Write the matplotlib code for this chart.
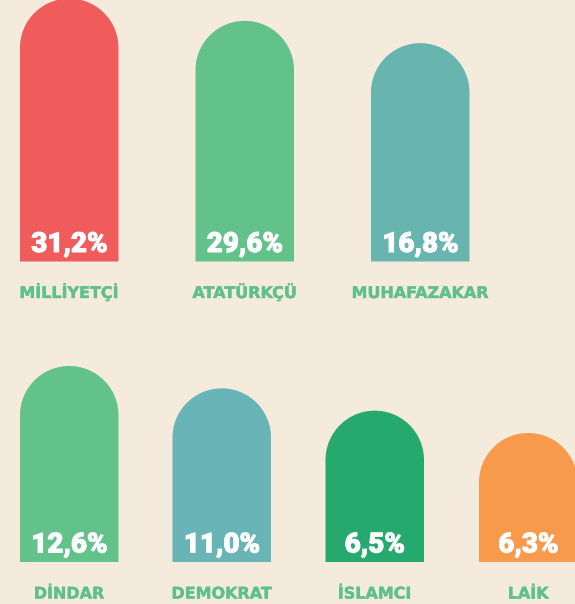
import matplotlib
matplotlib.use("Agg")
import numpy as np
import matplotlib.pyplot as plt
from matplotlib.patches import PathPatch
from matplotlib.path import Path
import matplotlib.patheffects as pe

## data
categories = ['MİLLİYETÇİ', 'ATATÜRKÇÜ', 'MUHAFAZAKAR', 'DİNDAR', 'DEMOKRAT', 'İSLAMCI', 'LAİK']
values = [31.2, 29.6, 16.8, 12.6, 11.0, 6.5, 6.3]
bar_colors = ['#F05B5C', '#62C28A', '#67B5AE', '#62C28A', '#68B4B7', '#26A96F', '#F79A4C']

bg = '#F5EBDD'
label_color = '#5FC08A'

## layout (pixels)
W, H = 575, 604
bar_w = 98.5
rows = [
    {'lefts': [20, 195.5, 371], 'bottom': 261.5},
    {'lefts': [20, 172.5, 325.5, 479], 'bottom': 562},
]
# bar height follows the rank of the value (equal steps)
h_max, h_step = 263, 22.33


def arch(left, bottom, w, h):
    r = w / 2
    cx = left + r
    cy = bottom - h + r
    t = np.linspace(np.pi, 2 * np.pi, 60)
    xs = [left] + list(cx + r * np.cos(t)) + [left + w, left]
    ys = [bottom] + list(cy + r * np.sin(t)) + [bottom, bottom]
    return Path(np.column_stack([xs, ys]), closed=True)


fig = plt.figure(figsize=(W / 100, H / 100), dpi=100, facecolor=bg)
ax = fig.add_axes([0, 0, 1, 1])
ax.set_xlim(0, W)
ax.set_ylim(H, 0)
ax.axis('off')

order = sorted(range(len(values)), key=lambda i: -values[i])
rank = {idx: r for r, idx in enumerate(order)}

i = 0
for row in rows:
    for left in row['lefts']:
        v = values[i]
        h = h_max - h_step * rank[i]
        bottom = row['bottom']
        cx = left + bar_w / 2
        ax.add_patch(PathPatch(arch(left, bottom, bar_w, h), facecolor=bar_colors[i], lw=0))
        txt = f"{v:.1f}".replace('.', ',') + '%'
        ax.text(cx, bottom - 9.5, txt, color='white', fontsize=20, fontweight='heavy',
                family='Roboto', ha='center', va='baseline',
                path_effects=[pe.withStroke(linewidth=0.7, foreground='white')])
        ax.text(cx, bottom + 36.5, categories[i], color=label_color, fontsize=11.5,
                fontweight='bold', family='DejaVu Sans', ha='center', va='baseline',
                path_effects=[pe.withStroke(linewidth=0.3, foreground=label_color)])
        i += 1

fig.savefig('out.png', dpi=100, facecolor=bg)
